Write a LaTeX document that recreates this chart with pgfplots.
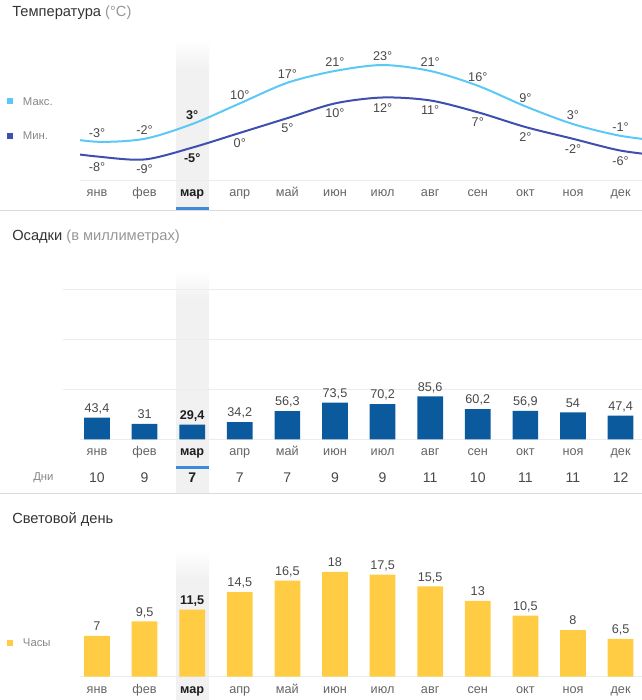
\documentclass[border=0pt]{standalone}
\usepackage{fontspec}
\setmainfont{Liberation Sans}
\usepackage{pgfplots}
\pgfplotsset{compat=1.18}
\definecolor{tmax}{RGB}{91,200,245}
\definecolor{tmin}{RGB}{63,79,174}
\definecolor{bblue}{RGB}{11,90,158}
\definecolor{byel}{RGB}{255,204,68}
\definecolor{uline}{RGB}{61,139,217}
\definecolor{band}{RGB}{241,241,241}
\definecolor{sepc}{RGB}{218,218,218}
\definecolor{gridc}{RGB}{236,236,236}
\definecolor{ttl}{RGB}{51,51,51}
\definecolor{ttlg}{RGB}{150,150,150}
\definecolor{lbl}{RGB}{72,72,72}
\definecolor{mon}{RGB}{100,100,100}
\definecolor{leg}{RGB}{135,135,135}
\definecolor{dk}{RGB}{30,30,30}
\tikzset{vlab/.style={font=\fontsize{9.5}{11}\selectfont, text=lbl, anchor=south, inner sep=0pt, text depth=0pt}}
\pgfplotsset{
  chartbase/.style={scale only axis, anchor=south west,
    axis line style={draw=none}, tick style={draw=none},
    xtick={0,...,11},
    xticklabels={янв,фев,{\textcolor{dk}{\textbf{мар}}},апр,май,июн,июл,авг,сен,окт,ноя,дек},
    xticklabel style={font=\fontsize{9.5}{11}\selectfont, text=mon, anchor=base, inner sep=0pt}},
}
\begin{document}
\begin{tikzpicture}[x=0.75pt,y=-0.75pt]
\useasboundingbox (0,0) rectangle (642,700);
% highlighted column
\foreach \a/\b in {40/207, 270/492.7, 550/700} {
  \shade[top color=white, bottom color=band] (176,\a) rectangle (209,{\a+30});
  \fill[band] (176,{\a+30}) rectangle (209,\b);
}
\fill[uline] (176,207) rectangle (209,210);
\fill[uline] (176,465.5) rectangle (209,468.5);
% separators and baselines
\draw[sepc, line width=0.75pt] (0,210.5) -- (642,210.5);
\draw[sepc, line width=0.75pt] (0,493) -- (642,493);
\draw[gridc, line width=0.75pt] (80,180) -- (642,180);
\draw[gridc, line width=0.75pt] (80,439.3) -- (642,439.3);
\draw[gridc, line width=0.75pt] (80,676.7) -- (642,676.7);
% titles
\node[anchor=base west, inner sep=0pt, font=\fontsize{11}{13}\selectfont, text=ttl] at (12,16.7) {Температура \textcolor{ttlg}{(°C)}};
\node[anchor=base west, inner sep=0pt, font=\fontsize{11}{13}\selectfont, text=ttl] at (12,240.5) {Осадки \textcolor{ttlg}{(в миллиметрах)}};
\node[anchor=base west, inner sep=0pt, font=\fontsize{11}{13}\selectfont, text=ttl] at (12,523) {Световой день};
% legends
\fill[tmax] (7.3,98.3) rectangle (13.3,104.3);
\node[anchor=west, inner sep=0pt, font=\fontsize{8.5}{10}\selectfont, text=leg] at (22.7,101.5) {Макс.};
\fill[tmin] (7.3,132.7) rectangle (13.3,138.7);
\node[anchor=west, inner sep=0pt, font=\fontsize{8.5}{10}\selectfont, text=leg] at (22.7,135.7) {Мин.};
\fill[byel] (7.3,640) rectangle (13.3,646);
\node[anchor=west, inner sep=0pt, font=\fontsize{8.5}{10}\selectfont, text=leg] at (22.7,643) {Часы};
\node[anchor=west, inner sep=0pt, font=\fontsize{8.5}{10}\selectfont, text=leg] at (33,478) {Дни};

% ---------- Temperature ----------
\begin{axis}[chartbase, at={(60pt,-135pt)}, width=421.5pt, height=105pt,
  xmin=-0.357, xmax=11.45, ymin=-15.97, ymax=31.49, ytick=\empty,
  xticklabel style={yshift=-12.2pt}]
\addplot[tmax, line width=1.5pt, smooth, tension=0.5] coordinates {
 (-1,-1) (0,-3) (1,-2) (2,3) (3,10) (4,17) (5,21) (6,23) (7,21) (8,16) (9,9) (10,3) (11,-1) (12,-3)};
\addplot[tmin, line width=1.5pt, smooth, tension=0.5] coordinates {
 (-1,-6) (0,-8) (1,-9) (2,-5) (3,0) (4,5) (5,10) (6,12) (7,11) (8,7) (9,2) (10,-2) (11,-6) (12,-8)};
\addplot[draw=none, nodes near coords, point meta=explicit symbolic,
  every node near coord/.style={vlab, yshift=3.0pt}] coordinates {
 (0,-3)[-3°] (1,-2)[-2°] (2,3)[{\textcolor{dk}{\textbf{3°}}}] (3,10)[10°] (4,17)[17°] (5,21)[21°]
 (6,23)[23°] (7,21)[21°] (8,16)[16°] (9,9)[9°] (10,3)[3°] (11,-1)[-1°]};
\addplot[draw=none, nodes near coords, point meta=explicit symbolic,
  every node near coord/.style={vlab, yshift=-11.1pt}] coordinates {
 (0,-8)[-8°] (1,-9)[-9°] (2,-5)[{\textcolor{dk}{\textbf{-5°}}}] (3,0)[0°] (4,5)[5°] (5,10)[10°]
 (6,12)[12°] (7,11)[11°] (8,7)[7°] (9,2)[2°] (10,-2)[-2°] (11,-6)[-6°]};
\end{axis}

% ---------- Precipitation ----------
\begin{axis}[chartbase, at={(47.025pt,-329.475pt)}, width=434.475pt, height=127pt,
  xmin=-0.72, xmax=11.45, ymin=0, ymax=338.6, clip=false,
  ytick={100,200,300}, yticklabels={}, ymajorgrids, grid style={gridc, line width=0.75pt},
  xticklabel style={yshift=-11.8pt}]
\addplot[ybar, bar width=19.3pt, fill=bblue, draw=none, nodes near coords, point meta=explicit symbolic,
  every node near coord/.style={vlab, yshift=3.75pt}] coordinates {
 (0,43.4)[{43,4}] (1,31)[31] (2,29.4)[{\textcolor{dk}{\textbf{29,4}}}] (3,34.2)[{34,2}] (4,56.3)[{56,3}]
 (5,73.5)[{73,5}] (6,70.2)[{70,2}] (7,85.6)[{85,6}] (8,60.2)[{60,2}] (9,56.9)[{56,9}] (10,54)[54] (11,47.4)[{47,4}]};
% rainy days
\addplot[draw=none, nodes near coords, point meta=explicit symbolic,
  every node near coord/.style={font=\fontsize{10.5}{12}\selectfont, text=lbl, anchor=base, inner sep=0pt}] coordinates {
 (0,-87)[10] (1,-87)[9] (2,-87)[{\textcolor{dk}{\textbf{7}}}] (3,-87)[7] (4,-87)[7] (5,-87)[9]
 (6,-87)[9] (7,-87)[11] (8,-87)[10] (9,-87)[11] (10,-87)[11] (11,-87)[12]};
\end{axis}

% ---------- Daylight ----------
\begin{axis}[chartbase, at={(60pt,-507.525pt)}, width=421.5pt, height=95pt,
  xmin=-0.357, xmax=11.45, ymin=0, ymax=21.73, clip=false, ytick=\empty,
  xticklabel style={yshift=-12.45pt}]
\addplot[ybar, bar width=19.3pt, fill=byel, draw=none, nodes near coords, point meta=explicit symbolic,
  every node near coord/.style={vlab, yshift=3.75pt}] coordinates {
 (0,7)[7] (1,9.5)[{9,5}] (2,11.5)[{\textcolor{dk}{\textbf{11,5}}}] (3,14.5)[{14,5}] (4,16.5)[{16,5}]
 (5,18)[18] (6,17.5)[{17,5}] (7,15.5)[{15,5}] (8,13)[13] (9,10.5)[{10,5}] (10,8)[8] (11,6.5)[{6,5}]};
\end{axis}
\end{tikzpicture}
\end{document}
